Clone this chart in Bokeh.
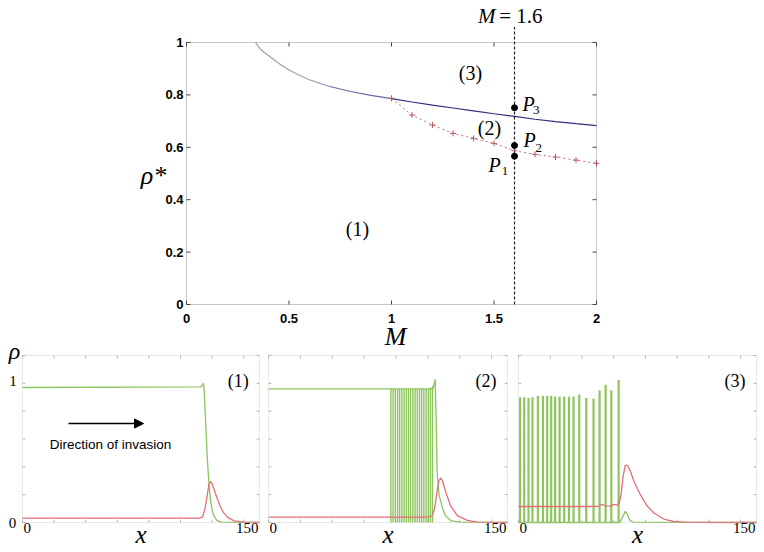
from bokeh.plotting import figure
from bokeh.models import Range1d, Label, BoxAnnotation, Arrow, NormalHead
from bokeh.core.properties import value
from bokeh.embed import file_html
from bokeh.resources import INLINE

# ---------------- data: phase diagram ----------------
M_ticks = [0, 0.5, 1, 1.5, 2]
M_tick_labels = ["0", "0.5", "1", "1.5", "2"]
rho_ticks = [0, 0.2, 0.4, 0.6, 0.8, 1]
rho_tick_labels = ["0", "0.2", "0.4", "0.6", "0.8", "1"]

M_boundary = [0.337, 0.36, 0.38, 0.40, 0.43, 0.46, 0.50, 0.55, 0.60, 0.65, 0.70,
              0.80, 0.90, 1.00, 1.10, 1.20, 1.30, 1.40, 1.50, 1.60, 1.70, 1.80, 1.90, 2.00]
rho_boundary = [1.0, 0.975, 0.962, 0.950, 0.932, 0.915, 0.895, 0.875, 0.858, 0.844, 0.832,
                0.813, 0.798, 0.786, 0.773, 0.761, 0.750, 0.739, 0.728, 0.718, 0.707, 0.698, 0.690, 0.683]

M_onset = [1.0, 1.1, 1.2, 1.3, 1.4, 1.5, 1.6, 1.7, 1.8, 1.9, 2.0]
rho_onset = [0.787, 0.723, 0.685, 0.653, 0.634, 0.615, 0.587, 0.573, 0.563, 0.551, 0.539]

M_cut = 1.6
P_rho = [0.566, 0.607, 0.751]   # P1, P2, P3

# ---------------- data: profiles ----------------
x_frame_ticks = [0, 20, 40, 60, 80, 100, 120, 140]
y_frame_ticks = [0, 0.2, 0.4, 0.6, 0.8, 1.0, 1.2]
x_tick_labels = ["0", "150"]
y_tick_labels = ["0", "1"]

# panel (1)
g1_x = [0, 113, 114, 114.6, 115.2, 116, 117, 118, 119, 120, 121, 123, 126, 150]
g1_y = [0.97, 0.975, 0.99, 1.0, 0.9, 0.7, 0.45, 0.28, 0.16, 0.09, 0.05, 0.015, 0.002, 0]
r1_x = [0, 112, 114, 115.5, 117, 118, 119, 120, 121.5, 123, 125, 127, 130, 134, 140, 150]
r1_y = [0.031, 0.031, 0.04, 0.1, 0.2, 0.27, 0.295, 0.28, 0.23, 0.18, 0.12, 0.075, 0.035, 0.012, 0.002, 0]

# panel (2)
g2_x = [0, 103.3, 104.0, 104.6, 105.2, 105.9, 107, 109, 111, 114.3, 120, 150]
g2_y = [0.96, 0.96, 1.0, 1.03, 0.75, 0.35, 0.2, 0.11, 0.05, 0.014, 0.002, 0]
comb2_x = [76.8, 78.2, 79.6, 81.0, 82.3, 83.7, 85.1, 86.5, 87.9, 89.2, 90.6, 92.0,
           93.4, 94.8, 96.1, 97.5, 98.9, 100.3, 101.6, 102.9]
comb2_h = [0.96, 0.96, 0.96, 0.96, 0.96, 0.96, 0.96, 0.96, 0.96, 0.96, 0.96, 0.96,
           0.96, 0.96, 0.96, 0.96, 0.96, 0.96, 0.97, 0.98]
r2_x = [0, 99.6, 101.5, 102.8, 104, 104.9, 106, 107, 108, 109.2, 111.2, 114.3, 118.5, 124.8, 131, 150]
r2_y = [0.038, 0.038, 0.042, 0.05, 0.09, 0.15, 0.24, 0.3, 0.32, 0.3, 0.22, 0.12, 0.05, 0.015, 0.003, 0]

# panel (3)
spike3_x = [1.05, 3.6, 6.3, 8.8, 12.2, 15.4, 18.1, 20.6, 23.1, 25.9, 28.8, 31.8,
            34.7, 38.3, 42.7, 47.3, 51.1, 54.9, 58.5, 63.1]
spike3_h = [0.90, 0.90, 0.895, 0.90, 0.91, 0.91, 0.91, 0.91, 0.905, 0.905, 0.905, 0.905,
            0.905, 0.92, 0.895, 0.89, 0.95, 0.99, 0.95, 1.025]
g3_x = [0, 63.5, 64.5, 66, 67.3, 68.5, 70, 72, 150]
g3_y = [0, 0, 0.01, 0.05, 0.08, 0.06, 0.02, 0.003, 0]
r3_x = [0, 50, 52.6, 54, 55.7, 58, 60, 62, 63.5, 64.6, 65.9, 67.3, 68.8, 70.5, 72.6,
        76.8, 81, 85.2, 91.5, 97.8, 106.2, 150]
r3_y = [0.115, 0.115, 0.13, 0.122, 0.12, 0.118, 0.13, 0.125, 0.14, 0.2, 0.33, 0.41, 0.41,
        0.37, 0.3, 0.2, 0.12, 0.07, 0.025, 0.008, 0.001, 0]

GREEN = "#8cc55c"
RED = "#e46f78"
SERIF = "Liberation Serif"
SANS = "Liberation Sans"
FRAME_DARK = "#444444"
FRAME_LIGHT = "#b4b4b4"

# One canvas; every sub-plot has its own scales (named ranges) spanning the canvas.
p = figure(width=764, height=552, x_range=Range1d(-0.9073, 2.8195),
           y_range=Range1d(-0.9466, 1.1603), output_backend="svg",
           toolbar_location=None, min_border=0, x_axis_location=None,
           y_axis_location=None, outline_line_color=None)
p.grid.visible = False
p.extra_x_ranges = {"p1": Range1d(-13.924, 469.62),
                    "p2": Range1d(-168.2, 311.3),
                    "p3": Range1d(-326.47, 155.04)}
p.extra_y_ranges = {"prof": Range1d(-0.21556, 3.7508)}


def lab(x, y, text, size, font=SERIF, style="normal", align="center",
        xr="default", yr="default"):
    p.add_layout(Label(x=x, y=y, text=text, text_font=font, text_font_size=size,
                       text_font_style=style, text_align=align, text_baseline="middle",
                       text_color="black", x_range_name=xr, y_range_name=yr))


# ---------------- top plot (phase diagram) ----------------
p.add_layout(BoxAnnotation(left=0, right=2, bottom=0, top=1, fill_alpha=0,
                           line_color=FRAME_DARK, line_width=1))
tx = 0.0195   # 4 px in M units
ty = 0.0153   # 4 px in rho units
nM, nR = len(M_ticks), len(rho_ticks)
p.segment(x0=M_ticks, y0=[0] * nM, x1=M_ticks, y1=[ty] * nM, line_color=FRAME_DARK)
p.segment(x0=M_ticks, y0=[1] * nM, x1=M_ticks, y1=[1 - ty] * nM, line_color=FRAME_DARK)
p.segment(x0=[0] * nR, y0=rho_ticks, x1=[tx] * nR, y1=rho_ticks, line_color=FRAME_DARK)
p.segment(x0=[2] * nR, y0=rho_ticks, x1=[2 - tx] * nR, y1=rho_ticks, line_color=FRAME_DARK)
p.text(x=M_ticks, y=[-0.0534] * nM, text=M_tick_labels, text_font=value(SANS),
       text_font_size="13px", text_font_style="bold", text_align="center",
       text_baseline="middle", text_color="black")
p.text(x=[-0.0146] * nR, y=rho_ticks, text=rho_tick_labels, text_font=value(SANS),
       text_font_size="13px", text_font_style="bold", text_align="right",
       text_baseline="middle", text_color="black")

# boundary curve (light grey -> navy)
p.line(M_boundary[:11], rho_boundary[:11], line_color="#a0a0ac", line_width=1.2)
p.line(M_boundary[10:14], rho_boundary[10:14], line_color="#6a6a9c", line_width=1.2)
p.line(M_boundary[13:], rho_boundary[13:], line_color="#2e2e80", line_width=1.2)

# onset curve (dotted, red crosses)
p.line(M_onset, rho_onset, line_color="#c86a70", line_dash="2 3", line_width=1)
p.scatter(M_onset, rho_onset, marker="cross", size=6, line_color="#b85a62", line_width=1)

# vertical dashed line M = 1.6 and the three points
p.line([M_cut, M_cut], [0, 1.06], line_color="#222222", line_dash="3 2", line_width=1.2)
p.scatter([M_cut] * 3, P_rho, size=6, color="black")

lab(1.507, 1.103, "M", "21px", style="italic", align="right")
lab(1.525, 1.103, "= 1.6", "21px", align="left")
lab(1.639, 0.765, "P", "20px", style="italic", align="left")
lab(1.690, 0.742, "3", "13px", align="left")
lab(1.644, 0.626, "P", "20px", style="italic", align="left")
lab(1.702, 0.597, "2", "13px", align="left")
lab(1.473, 0.532, "P", "20px", style="italic", align="left")
lab(1.538, 0.509, "1", "13px", align="left")
lab(1.385, 0.885, "(3)", "20px")
lab(1.478, 0.672, "(2)", "20px")
lab(0.834, 0.290, "(1)", "20px")
lab(-0.161, 0.492, "ρ*", "26px", style="italic")
lab(1.02, -0.1221, "M", "26px", style="italic")

# ---------------- bottom panels ----------------
kx, ky = 1.9, 0.0216   # 3 px ticks
nx, ny = len(x_frame_ticks), len(y_frame_ticks)
for name in ("p1", "p2", "p3"):
    kw = dict(x_range_name=name, y_range_name="prof")
    p.add_layout(BoxAnnotation(left=0, right=150, bottom=0, top=1.2, fill_alpha=0,
                               line_color=FRAME_LIGHT, line_width=1, **kw))
    p.segment(x0=x_frame_ticks, y0=[0] * nx, x1=x_frame_ticks, y1=[ky] * nx,
              line_color=FRAME_LIGHT, **kw)
    p.segment(x0=x_frame_ticks, y0=[1.2] * nx, x1=x_frame_ticks, y1=[1.2 - ky] * nx,
              line_color=FRAME_LIGHT, **kw)
    p.segment(x0=[0] * ny, y0=y_frame_ticks, x1=[kx] * ny, y1=y_frame_ticks,
              line_color=FRAME_LIGHT, **kw)
    p.segment(x0=[150] * ny, y0=y_frame_ticks, x1=[150 - kx] * ny, y1=y_frame_ticks,
              line_color=FRAME_LIGHT, **kw)
    tag = "(" + name[1] + ")"
    lab(136.5, 1.02, tag, "18px", xr=name, yr="prof")
    lab(0.6, -0.043, x_tick_labels[0], "15px", align="left", xr=name, yr="prof")
    lab(149.4, -0.043, x_tick_labels[1], "15px", align="right", xr=name, yr="prof")
    lab(75, -0.088, "x", "25px", style="italic", xr=name, yr="prof")

k1 = dict(x_range_name="p1", y_range_name="prof")
k2 = dict(x_range_name="p2", y_range_name="prof")
k3 = dict(x_range_name="p3", y_range_name="prof")

p.line(g1_x, g1_y, line_color=GREEN, line_width=1.3, **k1)
p.line(r1_x, r1_y, line_color=RED, line_width=1.3, **k1)

p.segment(x0=comb2_x, y0=[0] * len(comb2_x), x1=comb2_x, y1=comb2_h,
          line_color=GREEN, line_width=1.4, **k2)
p.line(g2_x, g2_y, line_color=GREEN, line_width=1.3, **k2)
p.line(r2_x, r2_y, line_color=RED, line_width=1.3, **k2)

p.segment(x0=spike3_x, y0=[0] * len(spike3_x), x1=spike3_x, y1=spike3_h,
          line_color=GREEN, line_width=2.2, **k3)
p.line(g3_x, g3_y, line_color=GREEN, line_width=1.3, **k3)
p.line(r3_x, r3_y, line_color=RED, line_width=1.3, **k3)

lab(-6.0, 1.02, y_tick_labels[1], "15px", xr="p1", yr="prof")
lab(-6.3, -0.007, y_tick_labels[0], "15px", xr="p1", yr="prof")
lab(-5.0, 1.229, "ρ", "24px", style="italic", xr="p1", yr="prof")
lab(55.7, 0.564, "Direction of invasion", "13.5px", font=SANS, xr="p1", yr="prof")
p.add_layout(Arrow(end=NormalHead(size=9, fill_color="black", line_color="black"),
                   x_start=29.1, y_start=0.711, x_end=76.6, y_end=0.711,
                   line_color="black", line_width=1.5, **k1))

open("out.html", "w").write(file_html(p, INLINE))
